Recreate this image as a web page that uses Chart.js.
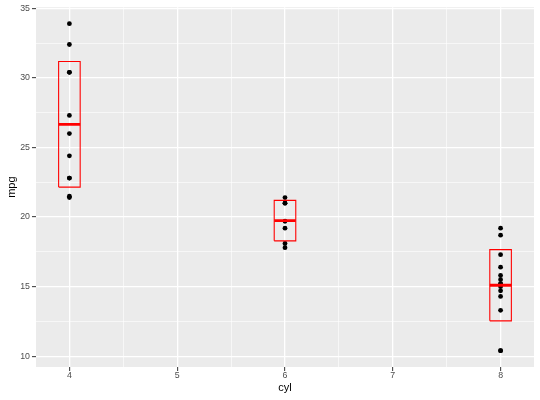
<!DOCTYPE html>
<html>
<head>
<meta charset="utf-8">
<script src="https://cdn.jsdelivr.net/npm/chart.js@4/dist/chart.umd.min.js"></script>
<style>
  html, body { margin: 0; padding: 0; background: #fff; }
  #wrap { width: 540px; height: 400px; }
</style>
</head>
<body>
<div id="wrap"><canvas id="chart" width="540" height="400"></canvas></div>
<script>
// mtcars: mpg grouped by cyl
const cylinders = [4, 6, 8];
const mpgCyl4 = [22.8, 24.4, 22.8, 32.4, 30.4, 33.9, 21.5, 27.3, 26.0, 30.4, 21.4];
const mpgCyl6 = [21.0, 21.0, 21.4, 18.1, 19.2, 17.8, 19.7];
const mpgCyl8 = [18.7, 14.3, 16.4, 17.3, 15.2, 10.4, 10.4, 14.7, 15.5, 15.2, 13.3, 19.2, 15.8, 15.0];
const groups = [mpgCyl4, mpgCyl6, mpgCyl8];
const xTicks = [4, 5, 6, 7, 8];
const yTicks = [10, 15, 20, 25, 30, 35];
const boxHalfWidth = 0.1;

function mean(a) { return a.reduce((s, v) => s + v, 0) / a.length; }
function sd(a) {
    const m = mean(a);
    return Math.sqrt(a.reduce((s, v) => s + (v - m) * (v - m), 0) / (a.length - 1));
}

// points
const points = [];
groups.forEach((g, i) => g.forEach(v => points.push({x: cylinders[i], y: v})));

// crossbars: mean +/- sd
const datasets = [];
groups.forEach((g, i) => {
    const c = cylinders[i], m = mean(g), s = sd(g);
    const lo = m - s, hi = m + s;
    datasets.push({
        type: 'scatter', showLine: true, order: 1,
        data: [
            {x: c - boxHalfWidth, y: lo}, {x: c + boxHalfWidth, y: lo},
            {x: c + boxHalfWidth, y: hi}, {x: c - boxHalfWidth, y: hi},
            {x: c - boxHalfWidth, y: lo}
        ],
        borderColor: '#FF0000', borderWidth: 1.1, pointRadius: 0, fill: false, tension: 0
    });
    datasets.push({
        type: 'scatter', showLine: true, order: 0,
        data: [{x: c - boxHalfWidth, y: m}, {x: c + boxHalfWidth, y: m}],
        borderColor: '#FF0000', borderWidth: 2.8, pointRadius: 0, fill: false
    });
});
datasets.push({
    type: 'scatter', order: 2, data: points,
    backgroundColor: '#000', borderColor: '#000', pointRadius: 2.4, borderWidth: 0
});

// panel background
const panelBg = {
    id: 'panelBg',
    beforeDraw(chart) {
        const a = chart.chartArea, ctx = chart.ctx;
        ctx.save();
        ctx.fillStyle = '#EBEBEB';
        ctx.fillRect(a.left, a.top, a.right - a.left, a.bottom - a.top);
        ctx.restore();
    }
};

function withMinors(major) {
    const out = [];
    major.forEach((v, i) => {
        if (i > 0) out.push({value: (major[i - 1] + v) / 2, minor: true});
        out.push({value: v});
    });
    return out;
}

const gridOpts = {
    color: '#FFFFFF',
    lineWidth: ctx => (ctx.tick && ctx.tick.minor) ? 0.6 : 1.3,
    tickColor: ctx => (ctx.tick && ctx.tick.minor) ? 'rgba(0,0,0,0)' : '#333333',
    tickLength: 4,
    tickWidth: 1
};

new Chart(document.getElementById('chart'), {
    type: 'scatter',
    data: {datasets: datasets},
    options: {
        responsive: false,
        animation: false,
        layout: {padding: {top: -2, right: 6, left: 4, bottom: 2}},
        plugins: {legend: {display: false}, tooltip: {enabled: false}},
        scales: {
            x: {
                type: 'linear', min: 3.69, max: 8.31,
                afterBuildTicks: s => { s.ticks = withMinors(xTicks); },
                border: {display: false},
                grid: gridOpts,
                ticks: {
                    color: '#4D4D4D', font: {family: 'Liberation Sans', size: 8.8, lineHeight: 1}, padding: 0,
                    autoSkip: false, maxRotation: 0,
                    callback: (v, i, t) => t[i].minor ? '' : String(v)
                },
                title: {display: true, text: 'cyl', color: '#000', font: {family: 'Liberation Sans', size: 11}, padding: {top: 2, bottom: 3}}
            },
            y: {
                type: 'linear', min: 9.225, max: 35.075,
                afterBuildTicks: s => { s.ticks = withMinors(yTicks); },
                border: {display: false},
                grid: gridOpts,
                ticks: {
                    color: '#4D4D4D', font: {family: 'Liberation Sans', size: 8.8}, padding: 2,
                    autoSkip: false,
                    callback: (v, i, t) => t[i].minor ? '' : String(v)
                },
                title: {display: true, text: 'mpg', color: '#000', font: {family: 'Liberation Sans', size: 11}, padding: {top: 1, bottom: 0}}
            }
        }
    },
    plugins: [panelBg]
});
</script>
</body>
</html>
